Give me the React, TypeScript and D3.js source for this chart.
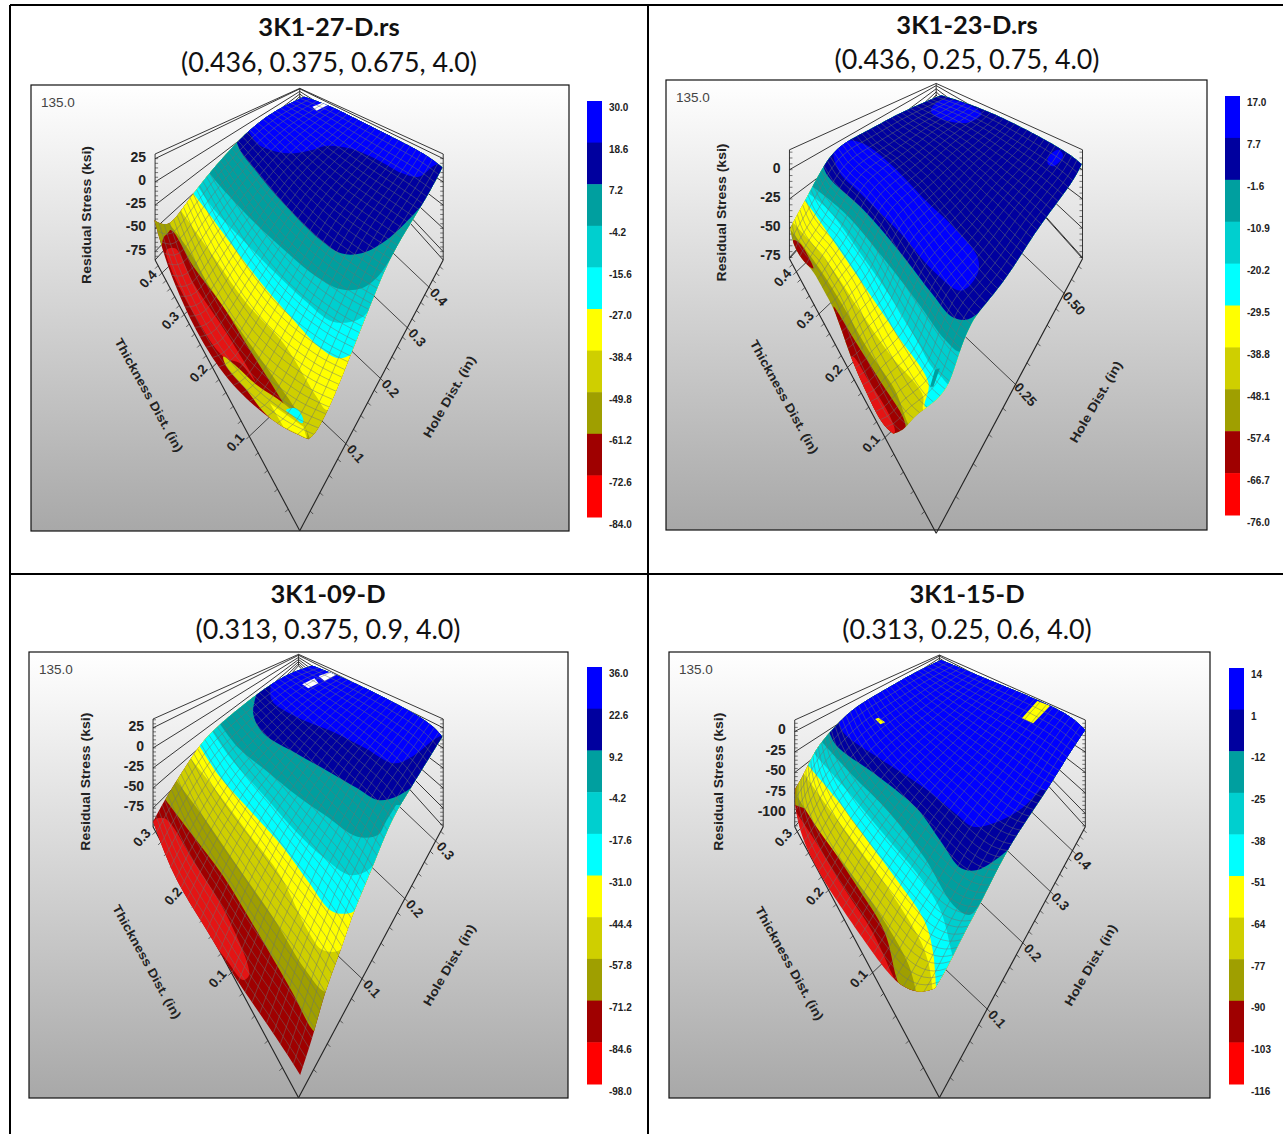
import { useEffect, useRef } from "react";
import * as d3 from "d3";

type Pt = [number, number];

// legend colours, lowest stress band first
const bandColors = ["#ff0000", "#9f0000", "#9f9f00", "#cfcf00", "#ffff00", "#00ffff", "#00cfcf", "#009f9f", "#00009f", "#0000ff"];

const stress1 = [30.0, 18.6, 7.2, -4.2, -15.6, -27.0, -38.4, -49.8, -61.2, -72.6, -84.0];
const stress2 = [17.0, 7.7, -1.6, -10.9, -20.2, -29.5, -38.8, -48.1, -57.4, -66.7, -76.0];
const stress3 = [36.0, 22.6, 9.2, -4.2, -17.6, -31.0, -44.4, -57.8, -71.2, -84.6, -98.0];
const stress4 = [14, 1, -12, -25, -38, -51, -64, -77, -90, -103, -116];

const zTicks1 = [25, 0, -25, -50, -75];
const zTicks2 = [0, -25, -50, -75];
const zTicks3 = [25, 0, -25, -50, -75];
const zTicks4 = [0, -25, -50, -75, -100];

// surface outline in view units (1566 x 1380 per panel crop)
const edges1 = {
  back: [[720, 50], [780, 75], [860, 125], [950, 180], [1020, 225], [1058, 262]] as Pt[],
  right: [[1058, 262], [1030, 330], [985, 420], [930, 530], [890, 650], [835, 820], [790, 960], [750, 1060], [730, 1078]] as Pt[],
  front: [[730, 1078], [669, 1045], [620, 1000], [571, 950], [506, 860], [440, 720], [392, 580], [371, 500], [353, 420]] as Pt[],
  left: [[353, 420], [385, 445], [420, 390], [460, 320], [560, 175], [640, 95], [720, 50]] as Pt[],
};
const edges2 = {
  back: [[720, 60], [790, 85], [870, 125], [960, 180], [1040, 235], [1068, 265]] as Pt[],
  right: [[1068, 265], [1050, 310], [1000, 390], [945, 480], [890, 590], [830, 680], [796, 727], [763, 826], [738, 935], [689, 984], [651, 1014], [631, 1053], [602, 1065]] as Pt[],
  front: [[602, 1065], [573, 1038], [532, 935], [495, 836], [458, 697], [433, 648], [404, 579], [383, 559], [355, 510], [347, 460]] as Pt[],
  left: [[347, 460], [347, 450], [390, 360], [430, 265], [470, 205], [540, 165], [620, 110], [720, 60]] as Pt[],
};
const edges3 = {
  back: [[740, 62], [800, 90], [880, 135], [960, 185], [1030, 235], [1058, 275]] as Pt[],
  right: [[1058, 275], [1020, 350], [970, 450], [930, 530], [880, 690], [840, 800], [810, 915], [770, 1040], [745, 1160], [710, 1290]] as Pt[],
  front: [[710, 1290], [690, 1250], [620, 1120], [550, 1000], [480, 850], [400, 700], [350, 530]] as Pt[],
  left: [[350, 530], [380, 460], [460, 305], [500, 250], [610, 140], [680, 85], [740, 62]] as Pt[],
};
const edges4 = {
  back: [[720, 45], [800, 85], [880, 125], [960, 165], [1040, 210], [1077, 255]] as Pt[],
  right: [[1077, 255], [1040, 320], [990, 420], [940, 510], [880, 620], [820, 770], [770, 880], [735, 970], [705, 1030]] as Pt[],
  front: [[705, 1030], [670, 1045], [630, 1030], [590, 990], [520, 870], [440, 730], [380, 600], [357, 490], [360, 430]] as Pt[],
  left: [[360, 430], [380, 390], [410, 310], [450, 255], [500, 190], [580, 135], [650, 85], [720, 45]] as Pt[],
};

// contour lines: [stress, points], everything up and right of a line is at or above that stress
const contours1: [number, Pt[]][] = [
  [-61.2, [[371, 475], [392, 450], [449, 560], [522, 680], [587, 810], [669, 970], [700, 1040], [720, 1090]]],
  [-49.8, [[392, 435], [432, 500], [489, 620], [563, 750], [644, 890], [710, 1010], [734, 1075]]],
  [-38.4, [[420, 395], [498, 530], [579, 670], [669, 790], [750, 950], [775, 990], [800, 970]]],
  [-27.0, [[445, 335], [480, 390], [540, 490], [612, 605], [690, 715], [760, 805], [805, 835], [835, 822], [860, 780], [885, 720]]],
  [-15.6, [[455, 310], [500, 390], [570, 480], [650, 580], [720, 660], [790, 725], [850, 720], [880, 690], [900, 650], [930, 600]]],
  [-4.2, [[485, 275], [530, 340], [600, 430], [680, 520], [750, 590], [810, 628], [860, 625], [900, 590], [930, 540], [960, 500]]],
  [7.2, [[550, 170], [565, 215], [600, 270], [640, 330], [700, 410], [760, 480], [810, 520], [860, 520], [910, 490], [950, 450], [1005, 380]]],
  [18.6, [[565, 140], [580, 150], [610, 195], [680, 220], [740, 210], [770, 198], [830, 205], [900, 240], [960, 280], [1000, 290], [1040, 255], [1075, 240]]],
];
const contours2: [number, Pt[]][] = [
  [-48.1, [[345, 455], [416, 569], [474, 678], [540, 816], [606, 935], [643, 1044], [660, 1060]]],
  [-38.8, [[345, 430], [363, 450], [441, 559], [507, 678], [598, 836], [656, 915], [676, 955], [676, 994], [690, 1000]]],
  [-29.5, [[378, 365], [400, 400], [458, 500], [548, 658], [614, 776], [689, 915], [680, 984], [695, 990]]],
  [-20.2, [[385, 345], [441, 400], [532, 549], [606, 678], [664, 796], [697, 866], [720, 895], [745, 925], [760, 920]]],
  [-10.9, [[395, 325], [482, 410], [581, 549], [664, 678], [730, 786], [767, 821], [796, 737], [805, 720]]],
  [-1.6, [[425, 255], [440, 300], [528, 400], [614, 519], [697, 648], [746, 717], [779, 727], [812, 707], [850, 660]]],
];
const contours3: [number, Pt[]][] = [
  [-71.2, [[375, 455], [440, 560], [520, 690], [600, 850], [690, 1040], [745, 1160], [770, 1170]]],
  [-57.8, [[400, 395], [470, 510], [560, 670], [640, 810], [720, 970], [770, 1040], [790, 1030]]],
  [-44.4, [[435, 330], [500, 430], [580, 560], [660, 690], [730, 860], [765, 915], [808, 915], [830, 860]]],
  [-31.0, [[460, 295], [510, 390], [590, 500], [670, 610], [730, 710], [790, 800], [840, 800], [860, 760], [885, 720]]],
  [-17.6, [[490, 250], [540, 340], [620, 450], [700, 560], [770, 640], [830, 690], [870, 680], [890, 660], [915, 620]]],
  [-4.2, [[510, 230], [560, 310], [630, 380], [700, 450], [770, 510], [850, 575], [900, 570], [920, 530], [945, 480]]],
  [9.2, [[605, 140], [595, 205], [620, 265], [700, 325], [780, 380], [850, 430], [900, 465], [945, 455], [980, 430]]],
  [22.6, [[640, 110], [640, 165], [700, 215], [790, 260], [870, 310], [940, 355], [990, 330], [1030, 290], [1065, 265]]],
];
const contours4: [number, Pt[]][] = [
  [-103, [[355, 490], [410, 590], [480, 730], [550, 860], [600, 990], [620, 1040]]],
  [-90, [[355, 480], [395, 500], [440, 590], [510, 720], [580, 860], [610, 1000], [625, 1045]]],
  [-77, [[365, 455], [420, 560], [500, 690], [570, 810], [640, 960], [660, 1050]]],
  [-64, [[380, 385], [430, 470], [510, 600], [600, 750], [670, 890], [690, 960], [700, 1045]]],
  [-51, [[390, 360], [460, 460], [540, 590], [620, 720], [680, 830], [700, 920], [708, 1035]]],
  [-38, [[405, 325], [490, 440], [580, 570], [670, 700], [720, 800], [750, 935], [755, 945]]],
  [-25, [[425, 290], [500, 390], [590, 500], [680, 640], [750, 780], [790, 810], [820, 770], [830, 750]]],
  [-12, [[440, 250], [460, 300], [560, 390], [660, 490], [720, 590], [770, 670], [810, 675], [860, 640], [885, 615]]],
  [1, [[465, 225], [480, 265], [580, 350], [680, 430], [760, 510], [800, 545], [860, 530], [920, 490], [965, 435]]],
];

// closed patches: [stress or null for an empty cell, points]
const patches1: [number | null, Pt[]][] = [
  [-80, [[383, 510], [404, 505], [449, 610], [530, 760], [600, 905], [563, 850], [522, 830], [449, 700], [392, 560]]],
  [-42, [[522, 830], [555, 860], [604, 915], [669, 970], [718, 1030], [726, 1075], [669, 1045], [624, 1000], [579, 930], [530, 860]]],
  [-30, [[636, 970], [718, 1040], [726, 1075], [669, 1040]]],
  [-55, [[350, 415], [392, 445], [375, 475], [370, 500], [360, 470]]],
  [-20, [[675, 990], [700, 985], [718, 1020], [715, 1030], [690, 1005]]],
  [null, [[740, 80], [770, 65], [778, 75], [750, 92]]],
];
const patches2: [number | null, Pt[]][] = [
  [-60, [[454, 687], [511, 796], [573, 915], [627, 1019], [631, 1053], [602, 1065], [573, 1038], [532, 935], [495, 836], [458, 707]]],
  [-70, [[503, 836], [540, 905], [590, 1004], [606, 1058], [602, 1065], [573, 1038], [532, 935], [495, 836]]],
  [-60, [[355, 490], [371, 500], [400, 559], [404, 574], [383, 559], [355, 515]]],
  [12, [[455, 225], [490, 195], [530, 205], [600, 270], [680, 370], [750, 450], [810, 540], [810, 590], [770, 640], [700, 580], [620, 470], [520, 350], [470, 290]]],
  [12, [[695, 105], [720, 75], [780, 85], [820, 115], [790, 140], [750, 140], [710, 125]]],
  [12, [[985, 245], [1010, 222], [1022, 240], [1000, 270], [985, 265]]],
  [-5, [[705, 875], [717, 870], [701, 925], [693, 925]]],
];
const patches3: [number | null, Pt[]][] = [
  [-90, [[352, 528], [378, 520], [450, 650], [530, 810], [585, 990], [570, 1005], [530, 945], [470, 850], [400, 700]]],
  [null, [[715, 118], [745, 100], [755, 115], [730, 130]]],
  [null, [[755, 93], [790, 78], [805, 85], [770, 108]]],
];
const patches4: [number | null, Pt[]][] = [
  [-55, [[920, 220], [958, 168], [990, 182], [948, 235]]],
  [-55, [[557, 222], [565, 218], [582, 232], [570, 238]]],
];

const panels = [
  {
    title: "3K1-27-D.rs", subtitle: "(0.436, 0.375, 0.675, 4.0)", titleX: 329, titleY: 36, subY: 72,
    frame: [31, 85, 569, 531], crop: [10, 80, 640, 460], bar: [587, 101, 517], barW: 15,
    stress: stress1, zTicks: zTicks1, edges: edges1, contours: contours1, patches: patches1, base: -70,
    apex: [709, 1352], leftC: [355, 540], rightC: [1060, 540], wallTop: 222, backX: 709, backBottom: 60, backTop: 25,
    tMax: 0.436, hMax: 0.48, tTicks: [0.1, 0.2, 0.3, 0.4], hTicks: [0.1, 0.2, 0.3, 0.4], hFormat: ".1f",
    zLabel: [187, 405], tLabel: [340, 945], hLabel: [1075, 950],
  },
  {
    title: "3K1-23-D.rs", subtitle: "(0.436, 0.25, 0.75, 4.0)", titleX: 967, titleY: 34, subY: 69,
    frame: [666, 80, 1207, 530], crop: [650, 75, 633, 465], bar: [1225, 96, 515], barW: 15,
    stress: stress2, zTicks: zTicks2, edges: edges2, contours: contours2, patches: patches2, base: -50,
    apex: [708, 1360], leftC: [345, 545], rightC: [1070, 545], wallTop: 222, backX: 708, backBottom: 60, backTop: 25,
    tMax: 0.436, hMax: 0.63, tTicks: [0.1, 0.2, 0.3, 0.4], hTicks: [0.25, 0.5], hFormat: ".2f",
    zLabel: [178, 408], tLabel: [332, 955], hLabel: [1103, 970],
  },
  {
    title: "3K1-09-D", subtitle: "(0.313, 0.375, 0.9, 4.0)", titleX: 328, titleY: 603, subY: 639,
    frame: [29, 652, 568, 1098], crop: [10, 645, 640, 460], bar: [587, 667, 1084], barW: 15,
    stress: stress3, zTicks: zTicks3, edges: edges3, contours: contours3, patches: patches3, base: -78,
    apex: [706, 1358], leftC: [350, 545], rightC: [1060, 545], wallTop: 222, backX: 706, backBottom: 62, backTop: 28,
    tMax: 0.31, hMax: 0.33, tTicks: [0.1, 0.2, 0.3], hTicks: [0.1, 0.2, 0.3], hFormat: ".1f",
    zLabel: [185, 410], tLabel: [335, 950], hLabel: [1075, 960],
  },
  {
    title: "3K1-15-D", subtitle: "(0.313, 0.25, 0.6, 4.0)", titleX: 967, titleY: 603, subY: 639,
    frame: [669, 652, 1210, 1098], crop: [650, 645, 633, 460], bar: [1229, 668, 1084], barW: 15,
    stress: stress4, zTicks: zTicks4, edges: edges4, contours: contours4, patches: patches4, base: -110,
    apex: [716, 1358], leftC: [358, 545], rightC: [1077, 545], wallTop: 225, backX: 716, backBottom: 62, backTop: 30,
    tMax: 0.31, hMax: 0.47, tTicks: [0.1, 0.2, 0.3], hTicks: [0.1, 0.2, 0.3, 0.4], hFormat: ".1f",
    zLabel: [170, 410], tLabel: [345, 955], hLabel: [1090, 960],
  },
];

const titleFont = "Lato, 'Open Sans', sans-serif";
const chartFont = "'Liberation Sans', Arial, sans-serif";
const perspective = 0.8;

// arc length sampler through the points of an edge
function edgeSampler(points: Pt[]) {
  const fx = d3.interpolateBasis(points.map((p) => p[0]));
  const fy = d3.interpolateBasis(points.map((p) => p[1]));
  const dense = d3.range(0, 201).map((i) => [fx(i / 200), fy(i / 200)]);
  const lengths = [0];
  for (let i = 1; i < dense.length; i++) {
    lengths.push(lengths[i - 1] + Math.hypot(dense[i][0] - dense[i - 1][0], dense[i][1] - dense[i - 1][1]));
  }
  const total = lengths[lengths.length - 1];
  return (t: number): Pt => {
    const i = Math.min(d3.bisectLeft(lengths, t * total), 200);
    return [dense[i][0], dense[i][1]];
  };
}

function drawPanel(svg: any, panel: any, index: number) {
  const [fx0, fy0, fx1, fy1] = panel.frame;
  const [cx, cy, cw, ch] = panel.crop;
  const viewX = d3.scaleLinear().domain([0, 1566]).range([cx, cx + cw]);
  const viewY = d3.scaleLinear().domain([0, 1380]).range([cy, cy + ch]);
  const toPx = (p: Pt): Pt => [viewX(p[0]), viewY(p[1])];

  const g = svg.append("g");

  g.append("text").attr("x", panel.titleX).attr("y", panel.titleY).attr("text-anchor", "middle")
    .attr("font-family", titleFont).attr("font-weight", 700).attr("font-size", 25.5).attr("fill", "#111").text(panel.title);
  g.append("text").attr("x", panel.titleX).attr("y", panel.subY).attr("text-anchor", "middle")
    .attr("font-family", titleFont).attr("font-size", 26.8).attr("fill", "#111").text(panel.subtitle);

  g.append("rect").attr("x", fx0).attr("y", fy0).attr("width", fx1 - fx0).attr("height", fy1 - fy0)
    .attr("fill", "url(#plotBg)").attr("stroke", "#111").attr("stroke-width", 1.2);

  g.append("text").attr("x", fx0 + 10).attr("y", fy0 + 22).attr("font-family", chartFont).attr("font-size", 13.5)
    .attr("fill", "#444").text("135.0");

  // walls
  const apex = toPx(panel.apex);
  const leftC = toPx(panel.leftC);
  const rightC = toPx(panel.rightC);
  const stressMax = panel.stress[0];
  const stressMin = panel.stress[panel.stress.length - 1];
  const wallY = d3.scaleLinear().domain([stressMin, stressMax]).range([leftC[1], viewY(panel.wallTop)]);
  const backY = d3.scaleLinear().domain([stressMin, stressMax]).range([viewY(panel.backBottom), viewY(panel.backTop)]);
  const backX = viewX(panel.backX);

  const lines = g.append("g").attr("stroke", "#222").attr("stroke-width", 0.9).attr("fill", "none");
  const wallLevels = [stressMin, ...panel.zTicks, stressMax];
  wallLevels.forEach((z: number) => {
    lines.append("line").attr("x1", leftC[0]).attr("y1", wallY(z)).attr("x2", backX).attr("y2", backY(z));
    lines.append("line").attr("x1", rightC[0]).attr("y1", wallY(z)).attr("x2", backX).attr("y2", backY(z));
  });
  [leftC[0], rightC[0]].forEach((x) => {
    lines.append("line").attr("x1", x).attr("y1", wallY(stressMin)).attr("x2", x).attr("y2", wallY(stressMax));
    d3.range(Math.ceil(stressMin / 5) * 5, stressMax, 5).forEach((z: number) => {
      lines.append("line").attr("x1", x).attr("y1", wallY(z)).attr("x2", x + (x === leftC[0] ? 3 : -3)).attr("y2", wallY(z)).attr("stroke-width", 0.6);
    });
  });
  lines.append("line").attr("x1", backX).attr("y1", backY(stressMin)).attr("x2", backX).attr("y2", backY(stressMax));

  // floor axes, spacing shrinks with distance from the front corner
  const squeeze = (p: number) => (p * (1 + perspective)) / (1 + perspective * p);
  const along = (corner: Pt, v: number, vMax: number): Pt => {
    const f = squeeze(v / vMax);
    return [apex[0] + (corner[0] - apex[0]) * f, apex[1] + (corner[1] - apex[1]) * f];
  };
  lines.append("line").attr("x1", apex[0]).attr("y1", apex[1]).attr("x2", leftC[0]).attr("y2", leftC[1]).attr("stroke-width", 1.1);
  lines.append("line").attr("x1", apex[0]).attr("y1", apex[1]).attr("x2", rightC[0]).attr("y2", rightC[1]).attr("stroke-width", 1.1);

  const drawAxis = (corner: Pt, vMax: number, ticks: number[], side: number, fmt: (v: number) => string) => {
    const minor = (ticks[1] - ticks[0]) / 5;
    d3.range(minor, vMax, minor).forEach((v: number) => {
      const p = along(corner, v, vMax);
      lines.append("line").attr("x1", p[0]).attr("y1", p[1]).attr("x2", p[0] + side * 3).attr("y2", p[1] + 3).attr("stroke-width", 0.7);
    });
    const reach = side < 0 ? 45 : 100;
    ticks.forEach((v) => {
      const p = along(corner, v, vMax);
      // floor grid line, runs in under the surface
      lines.append("line").attr("x1", p[0]).attr("y1", p[1]).attr("x2", p[0] - side * reach).attr("y2", p[1] - reach * 0.95).attr("stroke-width", 0.8);
      const lx = p[0] + (side < 0 ? -14 : 10);
      const ly = p[1] + (side < 0 ? 6 : 10);
      g.append("text").attr("transform", `translate(${lx},${ly}) rotate(${side < 0 ? -48 : 48})`)
        .attr("text-anchor", "middle").attr("dy", "0.35em").attr("font-family", chartFont).attr("font-weight", 700)
        .attr("font-size", 13.5).attr("fill", "#222").text(fmt(v));
    });
  };
  drawAxis(leftC, panel.tMax, panel.tTicks, -1, d3.format(".1f"));
  drawAxis(rightC, panel.hMax, panel.hTicks, 1, d3.format(panel.hFormat));

  panel.zTicks.forEach((z: number) => {
    g.append("text").attr("x", leftC[0] - 9).attr("y", wallY(z) - 2).attr("dy", "0.35em").attr("text-anchor", "end")
      .attr("font-family", chartFont).attr("font-weight", 700).attr("font-size", 14).attr("fill", "#222").text(z);
  });

  // surface
  const levels = [...panel.stress].reverse();
  const threshold = d3.scaleThreshold<number, string>().domain(levels.slice(1, -1)).range(bandColors);
  // the lit red on the surface is a little duller than the legend's
  const color = (s: number) => (threshold(s) === "#ff0000" ? "#e41414" : threshold(s));

  const back = edgeSampler(panel.edges.back.map(toPx));
  const right = edgeSampler(panel.edges.right.map(toPx));
  const front = edgeSampler(panel.edges.front.map(toPx));
  const left = edgeSampler(panel.edges.left.map(toPx));

  const steps = d3.range(0, 61).map((i) => i / 60);
  const outline: Pt[] = [...steps.map(back), ...steps.map(right), ...steps.map(front), ...steps.map(left)];
  const clipId = `surface-${index}`;
  svg.append("clipPath").attr("id", clipId).append("path")
    .attr("d", d3.line()(outline) + "Z");

  const surface = g.append("g").attr("clip-path", `url(#${clipId})`);
  surface.append("rect").attr("x", fx0).attr("y", fy0).attr("width", fx1 - fx0).attr("height", fy1 - fy0).attr("fill", color(panel.base));

  const smooth = d3.line().curve(d3.curveCatmullRom);
  panel.contours.forEach(([stress, pts]: [number, Pt[]]) => {
    const px = pts.map(toPx);
    const first = px[0];
    const last = px[px.length - 1];
    // close round the top right of the plot
    const d = `${smooth(px)}L${fx1},${last[1]}L${fx1},${fy0}L${first[0]},${fy0}Z`;
    surface.append("path").attr("d", d).attr("fill", color(stress));
  });
  panel.patches.forEach(([stress, pts]: [number | null, Pt[]]) => {
    // four point patches are single mesh cells, keep their corners
    const closed = d3.line().curve(pts.length === 4 ? d3.curveLinearClosed : d3.curveCatmullRomClosed.alpha(0.5));
    surface.append("path").attr("d", closed(pts.map(toPx))).attr("fill", stress === null ? "#ffffff" : color(stress));
  });

  // mesh, a Coons patch over the four edges
  const patch = (u: number, v: number): Pt => {
    const c0 = back(u);
    const c1 = front(1 - u);
    const d0 = left(1 - v);
    const d1 = right(v);
    const t = back(0);
    const r = back(1);
    const b = right(1);
    const l = left(0);
    const blend = (i: number) =>
      (1 - v) * c0[i] + v * c1[i] + (1 - u) * d0[i] + u * d1[i] -
      ((1 - u) * (1 - v) * t[i] + u * (1 - v) * r[i] + (1 - u) * v * l[i] + u * v * b[i]);
    return [blend(0), blend(1)];
  };
  const mesh = surface.append("g").attr("fill", "none").attr("stroke", "#6a7472").attr("stroke-width", 0.6).attr("stroke-opacity", 0.8);
  const meshLine = d3.line();
  const fine = d3.range(0, 41).map((i) => i / 40);
  d3.range(1, 24).map((i) => i / 24).forEach((u) => {
    mesh.append("path").attr("d", meshLine(fine.map((v) => patch(u, v))));
  });
  d3.range(1, 38).map((i) => i / 38).forEach((v) => {
    mesh.append("path").attr("d", meshLine(fine.map((u) => patch(u, v))));
  });

  // axis titles
  const axisTitle = (pos: Pt, angle: number, text: string, size: number, length: number, squash: number) => {
    const p = toPx(pos);
    g.append("text").attr("transform", `translate(${p[0]},${p[1]}) rotate(${angle}) scale(1,${squash})`)
      .attr("text-anchor", "middle").attr("dy", "0.35em").attr("font-family", chartFont).attr("font-weight", 700)
      .attr("font-size", size).attr("fill", "#222").attr("textLength", length).attr("lengthAdjust", "spacingAndGlyphs").text(text);
  };
  axisTitle(panel.zLabel, -90, "Residual Stress (ksi)", 14, 138, 0.85);
  axisTitle(panel.tLabel, 61, "Thickness Dist. (in)", 13, 128, 0.95);
  axisTitle(panel.hLabel, -60, "Hole Dist. (in)", 13, 92, 0.95);

  // legend
  const [barX, barTop, barBottom] = [panel.bar[0], panel.bar[1], panel.bar[2]];
  const bandY = d3.scaleBand<number>().domain(d3.range(10)).range([barTop, barBottom]);
  const legend = g.append("g");
  legend.selectAll("rect").data(d3.range(10)).enter().append("rect")
    .attr("x", barX).attr("y", (i: number) => bandY(i)).attr("width", panel.barW).attr("height", bandY.bandwidth() + 0.5)
    .attr("fill", (i: number) => bandColors[9 - i]);
  const labelY = d3.scaleLinear().domain([0, 10]).range([barTop + 6.5, barBottom + 7]);
  const isWhole = panel.stress.every((s: number) => Number.isInteger(s));
  const legendFormat = (s: number) => (isWhole ? String(s) : s.toFixed(1));
  const labelX = barX + panel.barW + 7;
  legend.selectAll("text").data(panel.stress).enter().append("text")
    .attr("x", labelX / 0.95).attr("y", (_: number, i: number) => labelY(i)).attr("dy", "0.35em")
    .attr("font-family", chartFont).attr("font-weight", 700).attr("font-size", 10.5).attr("fill", "#222")
    .attr("transform", "scale(0.95,1)")
    .text((d: number) => legendFormat(d));
}

export default function App() {
  const ref = useRef<SVGSVGElement>(null);

  useEffect(() => {
    const svg = d3.select(ref.current);
    svg.selectAll("*").remove();

    const grad = svg.append("defs").append("linearGradient").attr("id", "plotBg")
      .attr("x1", 0).attr("y1", 0).attr("x2", 0).attr("y2", 1);
    grad.append("stop").attr("offset", "0%").attr("stop-color", "#ffffff");
    grad.append("stop").attr("offset", "100%").attr("stop-color", "#a8a8a8");

    // table lines round the four charts
    const table = svg.append("g").attr("stroke", "#000").attr("stroke-width", 2);
    table.append("line").attr("x1", 10).attr("y1", 5).attr("x2", 1283).attr("y2", 5);
    table.append("line").attr("x1", 10).attr("y1", 574).attr("x2", 1283).attr("y2", 574);
    table.append("line").attr("x1", 10).attr("y1", 5).attr("x2", 10).attr("y2", 1134);
    table.append("line").attr("x1", 648).attr("y1", 5).attr("x2", 648).attr("y2", 1134);

    panels.forEach((panel, i) => drawPanel(svg, panel, i));
  }, []);

  return (
    <svg
      ref={ref}
      width={1283}
      height={1134}
      style={{ position: "absolute", left: 0, top: 0, background: "#fff" }}
    />
  );
}
